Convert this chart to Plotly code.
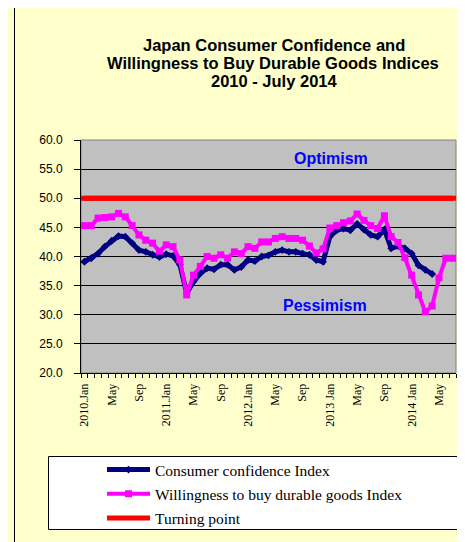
import plotly.graph_objects as go

# ---------------- data ----------------
months = [f"{y}-{m:02d}" for y in range(2010, 2015) for m in range(1, 13)][:55]  # Jan 2010 .. Jul 2014

consumer_confidence = [
    39.1, 39.7, 40.5, 41.7, 42.7, 43.5, 43.4, 42.3, 41.1, 40.8, 40.3, 39.9,   # 2010
    40.4, 40.1, 38.6, 33.7, 35.7, 37.1, 38.0, 37.8, 38.6, 38.6, 37.7, 38.2,   # 2011
    39.4, 39.2, 40.0, 40.2, 40.8, 41.1, 40.8, 40.8, 40.5, 40.3, 39.4, 39.1,   # 2012
    43.4, 44.5, 44.8, 44.5, 45.6, 44.6, 43.7, 43.4, 44.6, 41.4, 41.8, 41.4,   # 2013
    40.5, 38.5, 37.7, 37.0,                                                   # 2014
]
durable_goods = [
    45.3, 45.3, 46.6, 46.7, 46.8, 47.4, 46.8, 45.3, 43.7, 42.8, 42.3, 40.9,   # 2010
    42.0, 41.7, 39.4, 33.4, 36.8, 38.3, 40.0, 39.7, 40.3, 39.7, 40.8, 40.5,   # 2011
    41.7, 41.4, 42.5, 42.5, 43.1, 43.4, 43.1, 43.1, 42.8, 41.8, 40.6, 41.3,   # 2012
    44.9, 45.3, 45.8, 46.1, 47.3, 46.2, 45.3, 44.8, 47.0, 43.4, 42.4, 39.8,   # 2013
    36.8, 33.4, 30.5, 31.5, 36.3, 39.7, 39.7,                                 # 2014
]
turning_point = 50.0

tick_labels = ["2010.Jan", "May", "Sep", "2011.Jan", "May", "Sep", "2012.Jan", "May", "Sep",
               "2013 Jan", "May", "Sep", "2014 Jan", "May"]
y_ticks = [20, 25, 30, 35, 40, 45, 50, 55, 60]

# ---------------- geometry (window pixels; page body has an 8px margin) ----------------
OFF = 8
WIN_W, WIN_H = 465, 542
PLOT_L, PLOT_R, PLOT_T, PLOT_B = 81, 456, 140, 373
FIG_W, FIG_H = WIN_W - OFF, WIN_H - OFF
M_L, M_T = PLOT_L - OFF, PLOT_T - OFF
M_R, M_B = WIN_W - PLOT_R, WIN_H - PLOT_B
PW, PH = PLOT_R - PLOT_L, PLOT_B - PLOT_T


def px(x):
    return (x - PLOT_L) / PW


def py(y):
    return (PLOT_B - y) / PH


NAVY = "#000080"
MAGENTA = "#FF00FF"
RED = "#FF0000"
YELLOW = "#FFFFCC"

x_all = list(range(len(months)))

fig = go.Figure()
fig.add_trace(go.Scatter(
    x=x_all[:len(consumer_confidence)], y=consumer_confidence,
    mode="lines+markers", name="Consumer confidence Index", legendgroup="a",
    line=dict(color=NAVY, width=5),
    marker=dict(symbol="diamond", size=6, color=NAVY),
))
fig.add_trace(go.Scatter(
    x=x_all[:len(durable_goods)], y=durable_goods,
    mode="lines+markers", name="Willingness to buy durable goods Index", legendgroup="b",
    line=dict(color=MAGENTA, width=4),
    marker=dict(symbol="square", size=7, color=MAGENTA),
))
fig.add_trace(go.Scatter(
    x=x_all, y=[turning_point] * len(x_all),
    mode="lines", name="Turning point", legendgroup="c",
    line=dict(color=RED, width=5),
))
fig.add_hline(y=turning_point, line=dict(color=RED, width=5), layer="above")

shapes = [
    # white page outside the chart frame
    dict(type="rect", xref="paper", yref="paper", x0=px(-20), x1=px(14), y0=py(580), y1=py(-20),
         fillcolor="white", line=dict(width=0), layer="below"),
    dict(type="rect", xref="paper", yref="paper", x0=px(-20), x1=px(490), y0=py(7), y1=py(-20),
         fillcolor="white", line=dict(width=0), layer="below"),
    # chart frame
    dict(type="rect", xref="paper", yref="paper", x0=px(14.5), x1=px(490), y0=py(590), y1=py(7.5),
         fillcolor="rgba(0,0,0,0)", line=dict(color="black", width=1), layer="below"),
    # legend box
    dict(type="rect", xref="paper", yref="paper", x0=px(48.5), x1=px(458.5), y0=py(529.5), y1=py(456.5),
         fillcolor="white", line=dict(color="black", width=1), layer="below"),
    # plot-area border
    dict(type="rect", xref="paper", yref="paper", x0=0, x1=1, y0=0, y1=1,
         fillcolor="rgba(0,0,0,0)", line=dict(color="#808080", width=1), layer="below"),
]

title_font = dict(family="Liberation Sans, Arial", size=16.5, color="black")
annotations = [
    dict(text="<b>Japan Consumer Confidence and</b>", x=px(274), y=py(44.5), xref="paper", yref="paper",
         showarrow=False, xanchor="center", yanchor="middle", font=title_font),
    dict(text="<b>Willingness to Buy Durable Goods Indices</b>", x=px(273), y=py(63), xref="paper",
         yref="paper", showarrow=False, xanchor="center", yanchor="middle", font=title_font),
    dict(text="<b>2010 - July 2014</b>", x=px(274), y=py(81.5), xref="paper", yref="paper",
         showarrow=False, xanchor="center", yanchor="middle", font=title_font),
    dict(text="<b>Optimism</b>", x=px(330.5), y=py(158.5), xref="paper", yref="paper",
         showarrow=False, xanchor="center", yanchor="middle",
         font=dict(family="Liberation Sans, Arial", size=16, color="#0000FF")),
    dict(text="<b>Pessimism</b>", x=px(325), y=py(305), xref="paper", yref="paper",
         showarrow=False, xanchor="center", yanchor="middle",
         font=dict(family="Liberation Sans, Arial", size=16, color="#0000FF")),
]

fig.update_layout(
    width=FIG_W, height=FIG_H,
    margin=dict(l=M_L, r=M_R, t=M_T, b=M_B, pad=0, autoexpand=False),
    paper_bgcolor=YELLOW,
    plot_bgcolor="#C0C0C0",
    shapes=shapes,
    annotations=annotations,
    showlegend=True,
    legend=dict(
        x=px(102), y=py(453), xanchor="left", yanchor="top",
        bgcolor="rgba(0,0,0,0)", borderwidth=0,
        font=dict(family="Liberation Serif, Times New Roman", size=15.5, color="black"),
        traceorder="grouped", tracegroupgap=1, itemwidth=43,
    ),
    xaxis=dict(
        range=[-0.5, len(months) - 0.5],
        tickmode="array", tickvals=x_all[::4], ticktext=tick_labels,
        tickangle=-90,
        tickfont=dict(family="Liberation Serif, Times New Roman", size=12, color="black"),
        ticks="outside", ticklen=5, tickcolor="rgba(0,0,0,0)",
        minor=dict(tickmode="linear", tick0=-0.5, dtick=1, ticks="outside", ticklen=4,
                   tickcolor="black", showgrid=False),
        showgrid=False, zeroline=False, automargin=False,
        showline=True, linecolor="black", linewidth=1,
    ),
    yaxis=dict(
        range=[20, 60], tickmode="array", tickvals=y_ticks,
        ticktext=[f"{v:.1f}" for v in y_ticks],
        tickfont=dict(family="Liberation Sans, Arial", size=12, color="black"),
        ticks="outside", ticklen=6, tickcolor="black", ticklabelstandoff=9,
        showgrid=True, gridcolor="black", gridwidth=1, automargin=False,
        zeroline=False, showline=True, linecolor="black", linewidth=1,
    ),
)

fig.write_html("out.html")
